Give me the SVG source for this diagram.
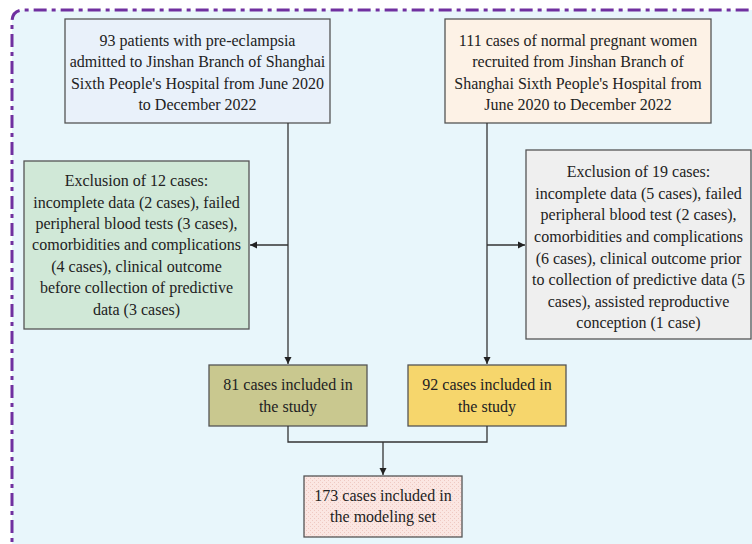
<svg xmlns="http://www.w3.org/2000/svg" width="752" height="544" viewBox="0 0 752 544">
<defs>
<marker id="ah" markerWidth="8" markerHeight="8" refX="7" refY="4" orient="auto" markerUnits="userSpaceOnUse">
<path d="M0,0.5 L7,4 L0,7.5 Z" fill="#222"/>
</marker>
<pattern id="dots" width="4" height="4" patternUnits="userSpaceOnUse">
<rect width="4" height="4" fill="#FBE6E2"/>
<rect x="0" y="0" width="1" height="1" fill="#EFC9C2"/>
<rect x="2" y="2" width="1" height="1" fill="#EFC9C2"/>
</pattern>
<style>
.box{stroke:#555;stroke-width:1.3}
.t{font-family:"Liberation Serif","Times New Roman",serif;font-size:16px;fill:#222;text-anchor:middle}
.c{fill:none;stroke:#333;stroke-width:1.3}
</style>
</defs>
<rect width="752" height="544" fill="#ffffff"/>
<path d="M12,560 L12,22 Q12,10 24,10 L770,10 L770,560 Z" fill="#E8F6FB"/>
<path d="M12,560 L12,22 Q12,10 24,10 L770,10" fill="none" stroke="#7030A0" stroke-width="3" stroke-dasharray="13 5 4 5"/>

<g id="n1">
<rect class="box" x="65" y="19" width="265" height="104" fill="#E9F1FA"/>
<text class="t" x="197.5" y="45.5">93 patients with pre-eclampsia</text>
<text class="t" x="197.5" y="67">admitted to Jinshan Branch of Shanghai</text>
<text class="t" x="197.5" y="88.5">Sixth People's Hospital from June 2020</text>
<text class="t" x="197.5" y="110">to December 2022</text>
</g>

<g id="n2">
<rect class="box" x="445" y="19" width="266" height="104" fill="#FDF2E6"/>
<text class="t" x="578" y="45.5">111 cases of normal pregnant women</text>
<text class="t" x="578" y="67">recruited from Jinshan Branch of</text>
<text class="t" x="578" y="88.5">Shanghai Sixth People's Hospital from</text>
<text class="t" x="578" y="110">June 2020 to December 2022</text>
</g>

<g id="n3">
<rect class="box" x="24" y="161" width="225" height="168" fill="#D0E8D7"/>
<text class="t" x="136.5" y="186">Exclusion of 12 cases:</text>
<text class="t" x="136.5" y="208">incomplete data (2 cases), failed</text>
<text class="t" x="136.5" y="229">peripheral blood tests (3 cases),</text>
<text class="t" x="136.5" y="250">comorbidities and complications</text>
<text class="t" x="136.5" y="272">(4 cases), clinical outcome</text>
<text class="t" x="136.5" y="293">before collection of predictive</text>
<text class="t" x="136.5" y="315">data (3 cases)</text>
</g>

<g id="n4">
<rect class="box" x="526" y="150" width="225" height="189" fill="#EFEFEF"/>
<text class="t" x="638.5" y="177">Exclusion of 19 cases:</text>
<text class="t" x="638.5" y="199">incomplete data (5 cases), failed</text>
<text class="t" x="638.5" y="220">peripheral blood test (2 cases),</text>
<text class="t" x="638.5" y="242">comorbidities and complications</text>
<text class="t" x="638.5" y="264">(6 cases), clinical outcome prior</text>
<text class="t" x="638.5" y="285">to collection of predictive data (5</text>
<text class="t" x="638.5" y="307">cases), assisted reproductive</text>
<text class="t" x="638.5" y="328">conception (1 case)</text>
</g>

<g id="n5">
<rect class="box" x="209" y="365" width="158" height="61" fill="#C9C88F"/>
<text class="t" x="288" y="390">81 cases included in</text>
<text class="t" x="288" y="412">the study</text>
</g>

<g id="n6">
<rect class="box" x="408" y="365" width="158" height="61" fill="#F6D66C"/>
<text class="t" x="487" y="390">92 cases included in</text>
<text class="t" x="487" y="412">the study</text>
</g>

<g id="n7">
<rect class="box" x="304" y="476" width="158" height="61" fill="url(#dots)"/>
<text class="t" x="383" y="501">173 cases included in</text>
<text class="t" x="383" y="522">the modeling set</text>
</g>

<g id="connectors">
<path class="c" d="M288,123 L288,364" marker-end="url(#ah)"/>
<path class="c" d="M288,245 L250,245" marker-end="url(#ah)"/>
<path class="c" d="M487,123 L487,364" marker-end="url(#ah)"/>
<path class="c" d="M487,245 L525,245" marker-end="url(#ah)"/>
<path class="c" d="M288,426 L288,442 L487,442 L487,426"/>
<path class="c" d="M383,442 L383,475" marker-end="url(#ah)"/>
</g>
</svg>
